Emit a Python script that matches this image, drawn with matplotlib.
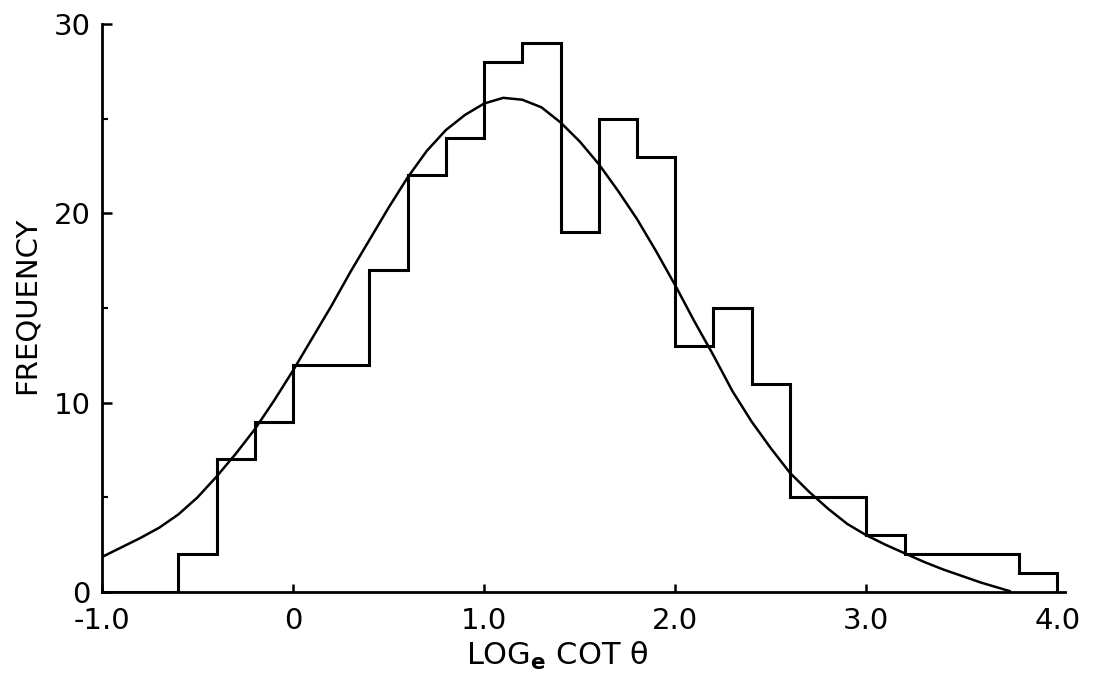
import matplotlib
matplotlib.use("Agg")
import matplotlib.pyplot as plt
import numpy as np

# histogram: bins of width 0.2 from -1.0 to 4.0
bin_edges = np.round(np.arange(-1.0, 4.01, 0.2), 1)
counts = [0, 0, 2, 7, 9, 12, 12, 17, 22, 24, 28, 29, 19,
          25, 23, 13, 15, 11, 5, 5, 3, 2, 2, 2, 1]

# fitted curve
curve_x = [-1.0, -0.9, -0.8, -0.7, -0.6, -0.5, -0.4, -0.3, -0.2, -0.1,
           0.0, 0.1, 0.2, 0.3, 0.4, 0.5, 0.6, 0.7, 0.8, 0.9,
           1.0, 1.1, 1.2, 1.3, 1.4, 1.5, 1.6, 1.7, 1.8, 1.9,
           2.0, 2.1, 2.2, 2.3, 2.4, 2.5, 2.6, 2.7, 2.8, 2.9,
           3.0, 3.1, 3.2, 3.3, 3.4, 3.5, 3.6, 3.7, 3.75]
curve_y = [1.85, 2.35, 2.85, 3.4, 4.1, 5.0, 6.1, 7.3, 8.6, 10.1,
           11.7, 13.4, 15.1, 16.9, 18.6, 20.3, 21.9, 23.3, 24.4, 25.2,
           25.8, 26.1, 26.0, 25.6, 24.8, 23.8, 22.6, 21.2, 19.7, 18.0,
           16.2, 14.3, 12.5, 10.6, 9.0, 7.6, 6.3, 5.3, 4.4, 3.6,
           3.0, 2.5, 2.05, 1.6, 1.2, 0.85, 0.5, 0.2, 0.05]

x_ticks = [-1.0, 0.0, 1.0, 2.0, 3.0, 4.0]
x_labels = ["-1.0", "0", "1.0", "2.0", "3.0", "4.0"]
y_ticks = [0, 10, 20, 30]
y_labels = ["0", "10", "20", "30"]
y_minor = [5, 15, 25]

plt.rcParams['font.family'] = ['DejaVu Sans']

fig = plt.figure(figsize=(11, 6.78), dpi=100)
ax = fig.add_axes([0.0927, 0.1268, 0.8755, 0.8378])

ax.stairs(counts, bin_edges, color='black', linewidth=2.2)
ax.plot(curve_x, curve_y, color='black', linewidth=1.8)

ax.set_xlim(-1.0, 4.04)
ax.set_ylim(0, 30)

for side in ['top', 'right']:
    ax.spines[side].set_visible(False)
for side in ['left', 'bottom']:
    ax.spines[side].set_linewidth(2.0)

ax.set_xticks(x_ticks, x_labels)
ax.set_yticks(y_ticks, y_labels)
ax.set_yticks(y_minor, minor=True)
ax.tick_params(axis='x', direction='in', length=6, width=1.8, pad=11, labelsize=21)
ax.tick_params(axis='y', direction='in', length=7, width=1.8, pad=8, labelsize=21)
ax.tick_params(axis='y', which='minor', direction='in', length=4, width=1.5)

ax.set_xlabel(r'LOG$_{\mathbf{e}}$ COT θ', fontsize=22, va='baseline')
ax.xaxis.set_label_coords(0.4725, -0.1285)
ax.set_ylabel('FREQUENCY', fontsize=21, va='center')
ax.yaxis.set_label_coords(-0.078, 0.505)

fig.savefig('out.png', dpi=100)
